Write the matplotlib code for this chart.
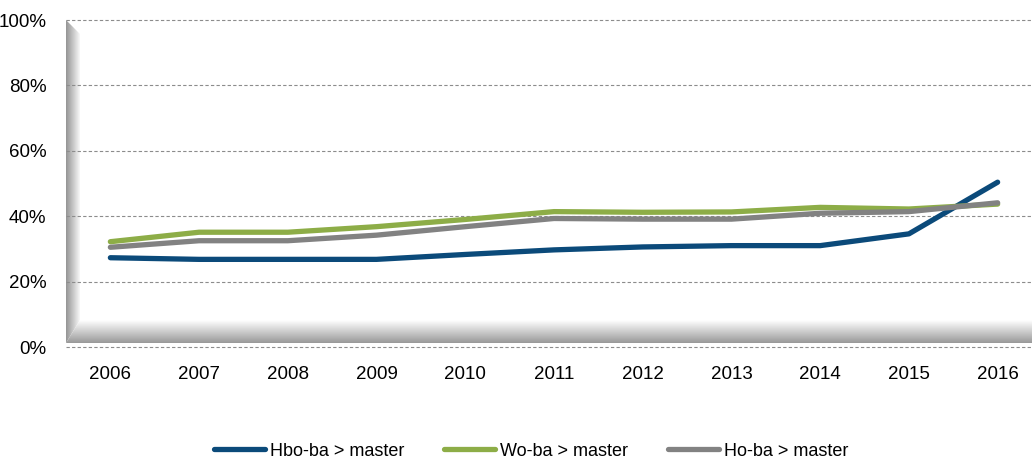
import numpy as np
import matplotlib.pyplot as plt
from matplotlib.patches import Polygon
from matplotlib.ticker import PercentFormatter

# --- data ---
years = ["2006", "2007", "2008", "2009", "2010", "2011", "2012", "2013", "2014", "2015", "2016"]
hbo = [27.3, 26.8, 26.8, 26.8, 28.3, 29.7, 30.6, 31.0, 31.0, 34.6, 50.4]
wo = [32.2, 35.1, 35.1, 36.8, 39.0, 41.4, 41.2, 41.3, 42.7, 42.2, 43.7]
ho = [30.5, 32.5, 32.5, 34.2, 36.8, 39.3, 39.1, 39.1, 40.9, 41.4, 44.1]
labels = ["Hbo-ba > master", "Wo-ba > master", "Ho-ba > master"]
colors = ["#0B4A7A", "#8DAD47", "#828282"]

plt.rcParams["font.family"] = ["Liberation Sans", "DejaVu Sans"]

fig = plt.figure(figsize=(10.32, 4.62), dpi=100)
W, H = 1032, 462
x0, x1, y0, y1 = 66, 1042, 347, 20
ax = fig.add_axes([x0 / W, (H - y0) / H, (x1 - x0) / W, (y0 - y1) / H])

x = np.arange(len(years))
xmin, xmax = -0.5, len(years) - 0.5
ax.set_xlim(xmin, xmax)
ax.set_ylim(0, 100)

# 3D-looking wall and floor (bevelled frame)
px = (xmax - xmin) / (x1 - x0)   # data units per pixel, x
py = 100 / (y0 - y1)             # data units per pixel, y
wx = 14 * px
fb, ft = 4 * py, 27 * py
wall = np.linspace(0.58, 1.0, 64).reshape(1, -1)
im = ax.imshow(wall, extent=(xmin, xmin + wx, fb, 100), cmap="gray", vmin=0, vmax=1,
               aspect="auto", zorder=0.2, interpolation="bilinear")
im.set_clip_path(Polygon([(xmin, 100), (xmin + wx, 100 - 14 * py), (xmin + wx, ft),
                          (xmin, fb)], closed=True, transform=ax.transData))
floor = np.linspace(1.0, 0.6, 64).reshape(-1, 1)
im2 = ax.imshow(floor, extent=(xmin, xmax, fb, ft), cmap="gray", vmin=0, vmax=1,
                aspect="auto", zorder=0.2, interpolation="bilinear")
im2.set_clip_path(Polygon([(xmin, fb), (xmin + wx, ft), (xmax, ft), (xmax, fb)],
                          closed=True, transform=ax.transData))
ax.set_xlim(xmin, xmax)
ax.set_ylim(0, 100)

ax.set_yticks(np.arange(0, 101, 20))
ax.yaxis.set_major_formatter(PercentFormatter(decimals=0))
ax.grid(axis="y", color="#8c8c8c", linestyle=(0, (3, 2)), linewidth=0.8)
ax.set_axisbelow(True)
for gl in ax.get_ygridlines():
    gl.set_clip_on(False)
ax.set_xticks(x)
ax.set_xticklabels(years)
ax.tick_params(length=0, labelsize=13.5)
ax.tick_params(axis="x", pad=14)
ax.tick_params(axis="y", pad=14)
for s in ax.spines.values():
    s.set_visible(False)

for vals, lab, c in zip([hbo, wo, ho], labels, colors):
    ax.plot(x, vals, color=c, lw=3.8, label=lab, solid_capstyle="round",
            solid_joinstyle="round", zorder=3)

fig.legend(loc="center", bbox_to_anchor=(0.515, (H - 451) / H), ncol=3,
           frameon=False, fontsize=13, handlelength=2.8, columnspacing=2.2,
           handletextpad=0.3)

fig.savefig("out.png", dpi=100)
